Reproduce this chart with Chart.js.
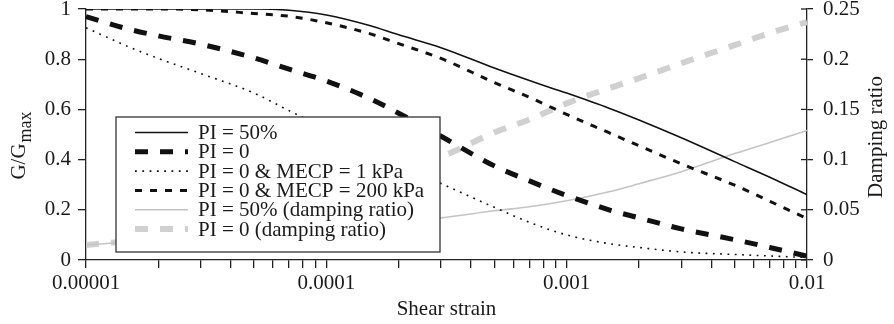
<!DOCTYPE html>
<html>
<head>
<meta charset="utf-8">
<script src="https://cdn.jsdelivr.net/npm/chart.js@4.4.1/dist/chart.umd.min.js"></script>
<style>
  html, body { margin: 0; padding: 0; background: #fff; }
  #zona { width: 894px; height: 324px; }
</style>
</head>
<body>
<div id="zona"><canvas id="grafica" width="894" height="324"></canvas></div>
<script>
// Deformación de corte (eje x, log)
const strain = [0.00001, 0.000015, 0.00002, 0.00003, 0.00005, 0.00007,
  0.0001, 0.00015, 0.0002, 0.0003, 0.0005, 0.0007,
  0.001, 0.0015, 0.002, 0.003, 0.005, 0.007, 0.01];

// G/Gmax (eje izquierdo)
const gPI50 = [1, 1, 1, 1, 1, 0.995, 0.976, 0.935, 0.897, 0.846, 0.765, 0.715, 0.665, 0.605, 0.558, 0.487, 0.392, 0.33, 0.26];
const gPI0 = [0.97, 0.92, 0.893, 0.86, 0.805, 0.76, 0.713, 0.645, 0.585, 0.493, 0.375, 0.315, 0.257, 0.2, 0.168, 0.124, 0.081, 0.05, 0.015];
const gMecp1 = [0.925, 0.85, 0.803, 0.743, 0.665, 0.595, 0.523, 0.443, 0.385, 0.305, 0.21, 0.15, 0.1, 0.065, 0.05, 0.032, 0.022, 0.016, 0.01];
const gMecp200 = [1, 1, 1, 0.997, 0.982, 0.971, 0.945, 0.903, 0.862, 0.803, 0.707, 0.648, 0.58, 0.507, 0.455, 0.383, 0.298, 0.234, 0.165];

// Amortiguamiento (eje derecho)
const dampPI50 = [0.015, 0.018, 0.02, 0.023, 0.027, 0.029, 0.032, 0.035, 0.038, 0.042, 0.049, 0.053, 0.059, 0.068, 0.076, 0.088, 0.106, 0.117, 0.129];
const dampPI0 = [0.015, 0.019, 0.024, 0.032, 0.045, 0.055, 0.067, 0.082, 0.093, 0.103, 0.127, 0.14, 0.156, 0.171, 0.181, 0.196, 0.214, 0.226, 0.237];

const etiquetas = ["PI = 50%", "PI = 0", "PI = 0 & MECP = 1 kPa", "PI = 0 & MECP = 200 kPa",
  "PI = 50% (damping ratio)", "PI = 0 (damping ratio)"];

// Ticks
const strainTicks = [0.00001, 0.0001, 0.001, 0.01];
const strainLabels = ["0.00001", "0.0001", "0.001", "0.01"];
const gTicks = [0, 0.2, 0.4, 0.6, 0.8, 1];
const dampTicks = [0, 0.05, 0.1, 0.15, 0.2, 0.25];

const fuente = "'Liberation Serif', 'DejaVu Serif', serif";
const tinta = "#1a1a1a";
const ejeColor = "#222";

// ticks menores 2..9 en cada década
const xTickValues = [];
strainTicks.forEach((t, i) => {
  xTickValues.push(t);
  if (i < strainTicks.length - 1) {
    for (let m = 2; m <= 9; m++) xTickValues.push(+(t * m).toPrecision(6));
  }
});

function puntos(valores) {
  return valores.map((v, i) => ({ x: strain[i], y: v }));
}

const extras = {
  id: "extras",
  afterDatasetsDraw(chart) {
    const { ctx, chartArea: a, scales } = chart;
    ctx.save();

    // ticks hacia dentro del eje derecho
    ctx.strokeStyle = ejeColor;
    ctx.lineWidth = 1.3;
    scales.y2.ticks.forEach(t => {
      const y = scales.y2.getPixelForValue(t.value);
      ctx.beginPath();
      ctx.moveTo(a.right - 6, y);
      ctx.lineTo(a.right, y);
      ctx.stroke();
    });

    // leyenda dentro del área
    const lx = a.left + 30, ly = a.top + 108, lw = 324, lh = 135;
    ctx.fillStyle = "#fff";
    ctx.fillRect(lx, ly, lw, lh);
    ctx.strokeStyle = "#333";
    ctx.lineWidth = 1.3;
    ctx.strokeRect(lx, ly, lw, lh);

    chart.data.datasets.forEach((ds, i) => {
      const y = ly + 15.5 + i * 19.3;
      ctx.beginPath();
      ctx.setLineDash(ds.borderDash || []);
      ctx.strokeStyle = ds.borderColor;
      ctx.lineWidth = ds.borderWidth;
      ctx.moveTo(lx + 19, y);
      ctx.lineTo(lx + 72, y);
      ctx.stroke();
      ctx.setLineDash([]);
      ctx.fillStyle = tinta;
      ctx.font = "21px " + fuente;
      ctx.textBaseline = "middle";
      ctx.textAlign = "left";
      ctx.fillText(ds.label, lx + 82, y + 1);
    });
    ctx.restore();
  },
  afterDraw(chart) {
    const { ctx, chartArea: a } = chart;
    ctx.save();
    ctx.fillStyle = tinta;
    ctx.textBaseline = "alphabetic";

    // título eje x
    ctx.font = "21px " + fuente;
    ctx.textAlign = "center";
    ctx.fillText("Shear strain", (a.left + a.right) / 2, 315);

    // título eje derecho
    ctx.save();
    ctx.translate(882, 137);
    ctx.rotate(-Math.PI / 2);
    ctx.fillText("Damping ratio", 0, 0);
    ctx.restore();

    // título eje izquierdo con subíndice
    ctx.save();
    ctx.translate(25, 146);
    ctx.rotate(-Math.PI / 2);
    ctx.textAlign = "left";
    ctx.font = "21px " + fuente;
    const w1 = ctx.measureText("G/G").width;
    ctx.font = "18px " + fuente;
    const w2 = ctx.measureText("max").width;
    const x0 = -(w1 + w2) / 2;
    ctx.font = "21px " + fuente;
    ctx.fillText("G/G", x0, 0);
    ctx.font = "18px " + fuente;
    ctx.fillText("max", x0 + w1 + 1, 6);
    ctx.restore();

    ctx.restore();
  }
};

const comunEje = {
  grid: { drawOnChartArea: false, tickLength: 8, color: ejeColor, lineWidth: 1.3 },
  border: { color: ejeColor, width: 1.3 }
};

new Chart(document.getElementById("grafica"), {
  type: "line",
  data: {
    datasets: [
      { label: etiquetas[0], data: puntos(gPI50), yAxisID: "y", borderColor: "#111", borderWidth: 1.6 },
      { label: etiquetas[1], data: puntos(gPI0), yAxisID: "y", borderColor: "#111", borderWidth: 5, borderDash: [13, 12] },
      { label: etiquetas[2], data: puntos(gMecp1), yAxisID: "y", borderColor: "#111", borderWidth: 1.6, borderDash: [1.8, 5.5] },
      { label: etiquetas[3], data: puntos(gMecp200), yAxisID: "y", borderColor: "#111", borderWidth: 3, borderDash: [7, 8] },
      { label: etiquetas[4], data: puntos(dampPI50), yAxisID: "y2", borderColor: "#c4c4c4", borderWidth: 1.6 },
      { label: etiquetas[5], data: puntos(dampPI0), yAxisID: "y2", borderColor: "#d0d0d0", borderWidth: 6, borderDash: [13, 12] }
    ]
  },
  options: {
    responsive: false,
    animation: false,
    devicePixelRatio: 1,
    layout: { padding: { top: 9, left: 0, right: 0, bottom: 0 } },
    elements: {
      point: { radius: 0 },
      line: { cubicInterpolationMode: "monotone", borderCapStyle: "butt", fill: false }
    },
    plugins: { legend: { display: false }, tooltip: { enabled: false } },
    scales: {
      x: {
        type: "logarithmic",
        min: 0.00001,
        max: 0.01,
        afterBuildTicks: s => { s.ticks = xTickValues.map(v => ({ value: v })); },
        afterFit: s => { s.height = 64; s.paddingLeft = 0; s.paddingRight = 0; },
        ticks: {
          autoSkip: false,
          maxRotation: 0,
          padding: 3,
          color: tinta,
          font: { family: fuente, size: 21 },
          callback: v => {
            const i = strainTicks.findIndex(t => Math.abs(t - v) < t * 1e-6);
            return i >= 0 ? strainLabels[i] : "";
          }
        },
        ...comunEje
      },
      y: {
        position: "left",
        min: 0,
        max: 1,
        afterBuildTicks: s => { s.ticks = gTicks.map(v => ({ value: v })); },
        afterFit: s => { s.width = 86; s.paddingTop = 0; s.paddingBottom = 0; },
        ticks: { padding: 7, color: tinta, font: { family: fuente, size: 21 }, callback: v => String(+v.toFixed(2)) },
        ...comunEje
      },
      y2: {
        position: "right",
        min: 0,
        max: 0.25,
        afterBuildTicks: s => { s.ticks = dampTicks.map(v => ({ value: v })); },
        afterFit: s => { s.width = 87; s.paddingTop = 0; s.paddingBottom = 0; },
        ticks: { padding: 10, color: tinta, font: { family: fuente, size: 21 }, callback: v => String(+v.toFixed(2)) },
        grid: { drawOnChartArea: false, tickLength: 6, color: ejeColor, lineWidth: 1.3 },
        border: { color: ejeColor, width: 1.3 }
      }
    }
  },
  plugins: [extras]
});
</script>
</body>
</html>
